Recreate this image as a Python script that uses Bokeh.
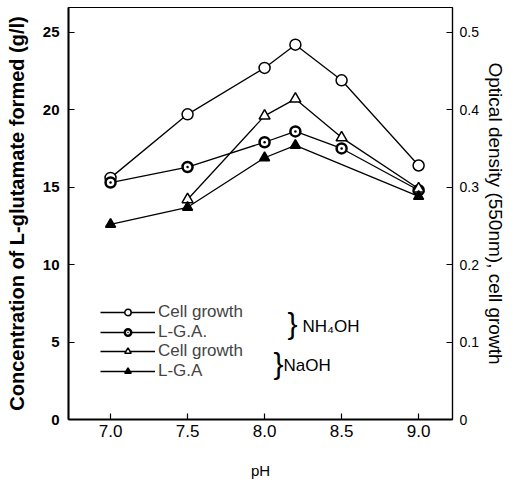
from bokeh.plotting import figure
from bokeh.models import Range1d, LinearAxis, Legend, LegendItem, Label, FixedTicker
from bokeh.embed import file_html
from bokeh.resources import INLINE

# ---- data ----
ph_nh4_growth = [7.0, 7.5, 8.0, 8.2, 8.5, 9.0]
od_nh4_growth = [0.312, 0.394, 0.454, 0.484, 0.438, 0.328]
ph_nh4_lga = [7.0, 7.5, 8.0, 8.2, 8.5, 9.0]
lga_nh4 = [15.3, 16.3, 17.9, 18.6, 17.5, 14.8]
ph_naoh_growth = [7.5, 8.0, 8.2, 8.5, 9.0]
od_naoh_growth = [0.284, 0.392, 0.414, 0.364, 0.298]
ph_naoh_lga = [7.0, 7.5, 8.0, 8.2, 9.0]
lga_naoh = [12.6, 13.7, 16.9, 17.7, 14.4]

x_ticks = [7.0, 7.5, 8.0, 8.5, 9.0]
x_tick_labels = ["7.0", "7.5", "8.0", "8.5", "9.0"]
left_ticks = [0, 5, 10, 15, 20, 25]
right_ticks = [0, 0.1, 0.2, 0.3, 0.4, 0.5]
right_tick_labels = ["0", "0.1", "0.2", "0.3", "0.4", "0.5"]

FONT = "Liberation Sans"

p = figure(width=508, height=481, x_range=Range1d(6.727, 9.22), y_range=Range1d(0, 26.6),
           output_backend="svg", toolbar_location=None,
           min_border_left=68, min_border_right=52, min_border_top=7, min_border_bottom=56)
p.extra_y_ranges = {"od": Range1d(0, 0.532)}
p.grid.visible = False
p.outline_line_color = "black"
p.outline_line_width = 1.2
p.background_fill_color = "white"
p.border_fill_color = "white"

# axes
xa = p.xaxis[0]
xa.ticker = FixedTicker(ticks=x_ticks)
xa.major_label_overrides = {t: s for t, s in zip(x_ticks, x_tick_labels)}
xa.axis_label = "pH"
ya = p.yaxis[0]
ya.ticker = FixedTicker(ticks=left_ticks)
ya.axis_label = "Concentration of L-glutamate formed (g/l)"
ra = LinearAxis(y_range_name="od", ticker=FixedTicker(ticks=right_ticks),
                axis_label="Optical density (550nm), cell growth")
ra.major_label_overrides = {t: s for t, s in zip(right_ticks, right_tick_labels)}
p.add_layout(ra, "right")

for ax in (xa, ya, ra):
    ax.axis_line_color = "black"
    ax.axis_line_width = 2
    ax.major_tick_in = 6
    ax.major_tick_out = 0
    ax.minor_tick_line_color = None
    ax.major_tick_line_color = "black"
    ax.major_tick_line_width = 1.2
    ax.major_label_text_font = FONT
    ax.major_label_text_color = "black"
    ax.axis_label_text_font = FONT
    ax.axis_label_text_color = "black"
    ax.axis_label_text_font_style = "normal"
ra.axis_line_width = 1.2
xa.major_label_text_font_size = "17px"
xa.major_label_standoff = 5
xa.axis_label_text_font_size = "15px"
xa.axis_label_standoff = 22
ya.major_label_text_font_size = "15px"
ya.major_label_text_font_style = "bold"
ya.major_label_standoff = 9
ya.axis_label_text_font_size = "20px"
ya.axis_label_text_font_style = "bold"
ya.axis_label_standoff = 12
ra.major_label_text_font_size = "14px"
ra.major_label_standoff = 7
ra.axis_label_text_font_size = "19px"
ra.axis_label_standoff = 3

# series
lw = 1.3
l1 = p.line(ph_nh4_growth, od_nh4_growth, y_range_name="od", line_color="black", line_width=lw)
m1 = p.scatter(ph_nh4_growth, od_nh4_growth, y_range_name="od", marker="circle", size=11,
               fill_color="white", line_color="black", line_width=1.5)
l2 = p.line(ph_nh4_lga, lga_nh4, line_color="black", line_width=lw)
m2 = p.scatter(ph_nh4_lga, lga_nh4, marker="circle_dot", size=10,
               fill_color="white", line_color="black", line_width=2.5)
l3 = p.line(ph_naoh_growth, od_naoh_growth, y_range_name="od", line_color="black", line_width=lw)
m3 = p.scatter(ph_naoh_growth, od_naoh_growth, y_range_name="od", marker="triangle", size=11,
               fill_color="white", line_color="black", line_width=1.5)
l4 = p.line(ph_naoh_lga, lga_naoh, line_color="black", line_width=lw)
m4 = p.scatter(ph_naoh_lga, lga_naoh, marker="triangle", size=10,
               fill_color="black", line_color="black", line_width=1.5)

def make_legend(label, rends, loc):
    return Legend(items=[LegendItem(label=label, renderers=rends)], location=loc,
                  orientation="vertical", glyph_width=55, glyph_height=16, label_height=16,
                  spacing=0, label_standoff=3, padding=0, margin=0,
                  label_text_font=FONT, label_text_font_size="17px",
                  background_fill_alpha=0, border_line_color=None)

for lab, rends, loc in [("Cell growth", [l1, m1], (32, 97)),
                        ("L-G.A.", [l2, m2], (32, 77)),
                        ("Cell growth", [l3, m3], (32, 58)),
                        ("L-G.A", [l4, m4], (32, 38))]:
    p.add_layout(make_legend(lab, rends, loc), "center")

# group braces and labels
for txt, x, y, size in [("}", 219, 80, "30px"), ("NH\u2084OH", 234, 84, "17px"),
                        ("}", 205, 40, "30px"), ("NaOH", 215, 45, "17px")]:
    p.add_layout(Label(x=x, y=y, x_units="screen", y_units="screen", text=txt,
                       text_font=FONT, text_font_size=size, text_color="black"))

open("out.html", "w").write(file_html(p, INLINE))
